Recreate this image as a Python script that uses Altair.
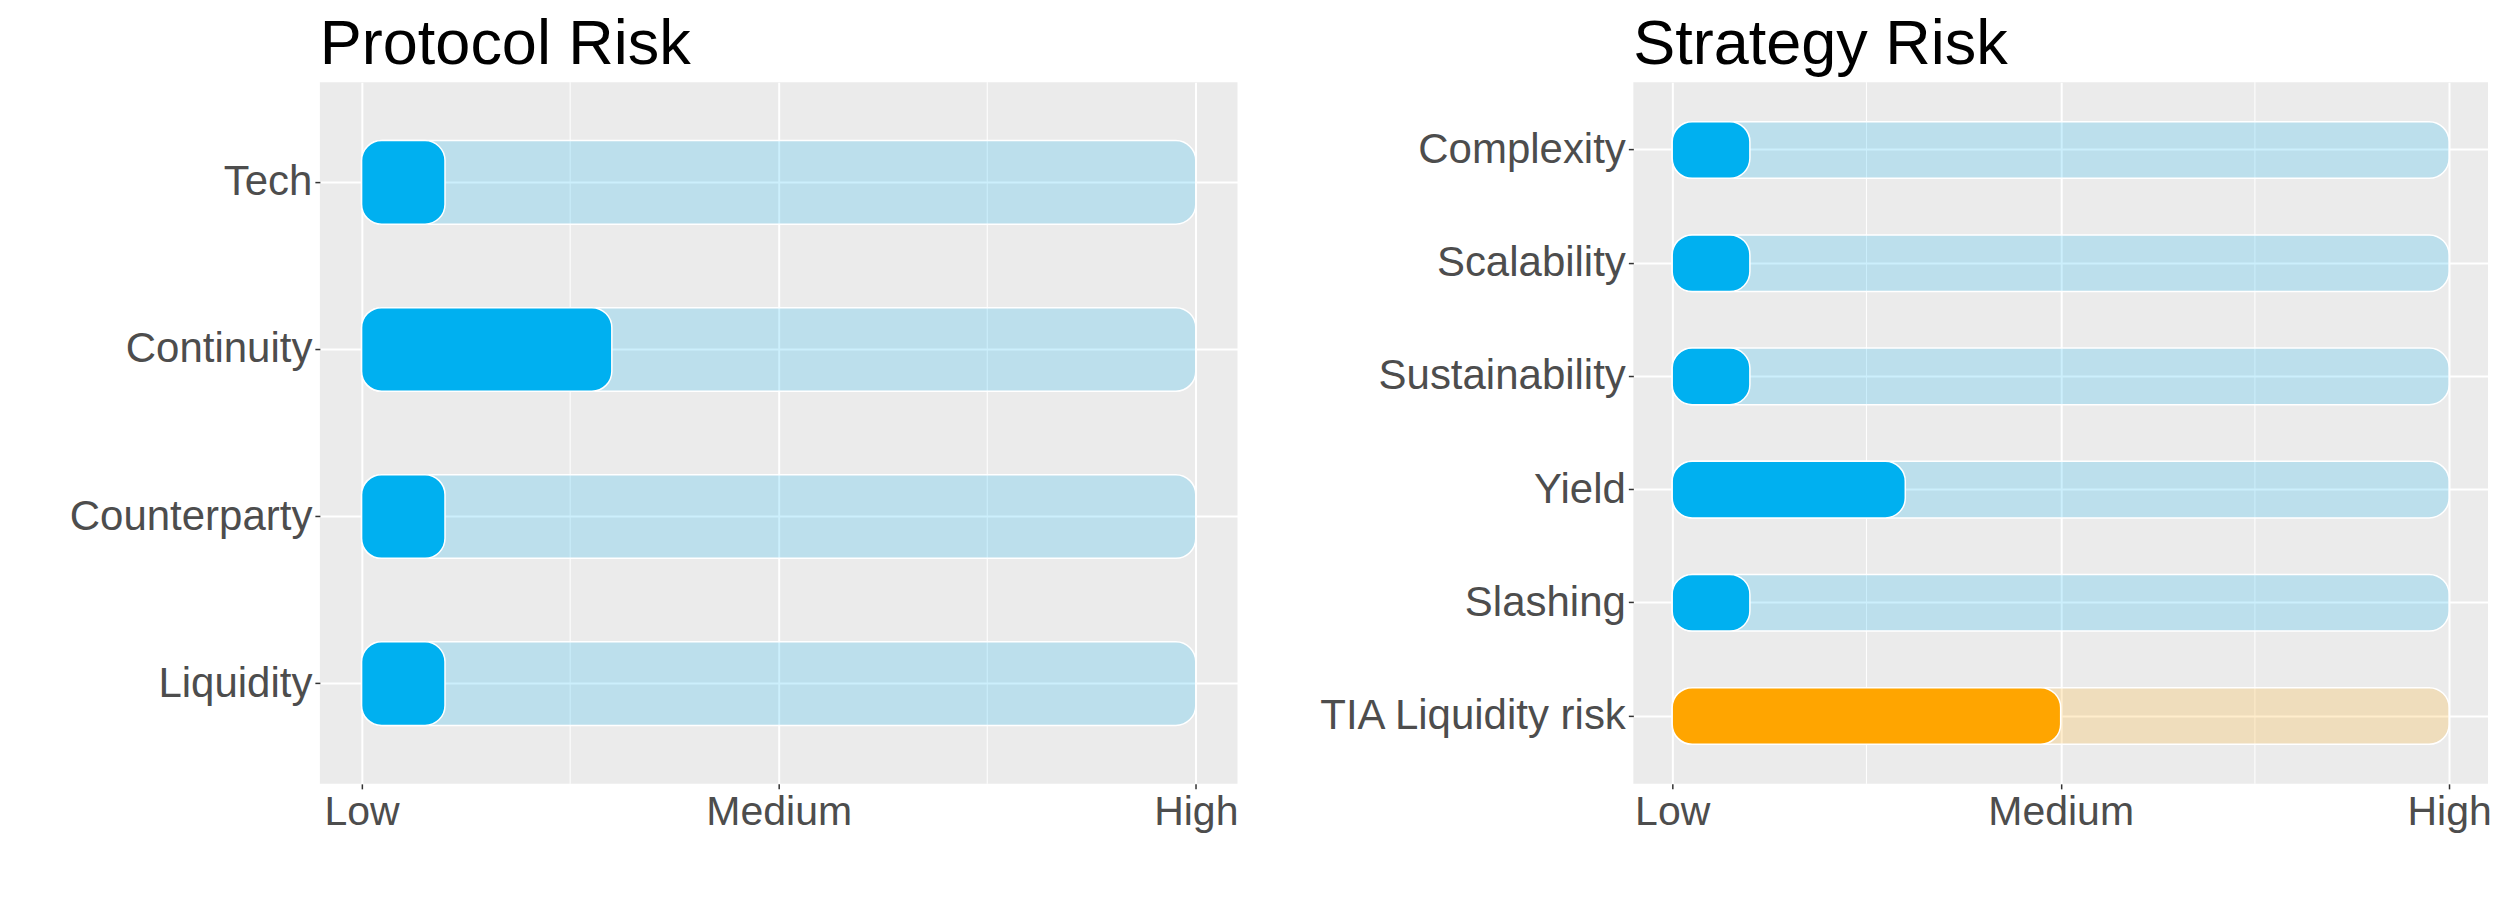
import altair as alt
import pandas as pd

# ---- data ----
protocol_cats = ["Tech", "Continuity", "Counterparty", "Liquidity"]
protocol_vals = [1.2, 1.6, 1.2, 1.2]
protocol_cols = ["#00B0F0", "#00B0F0", "#00B0F0", "#00B0F0"]

strategy_cats = ["Complexity", "Scalability", "Sustainability", "Yield", "Slashing", "TIA Liquidity risk"]
strategy_vals = [1.2, 1.2, 1.2, 1.6, 1.2, 2.0]
strategy_cols = ["#00B0F0", "#00B0F0", "#00B0F0", "#00B0F0", "#00B0F0", "#FFA500"]

tick_values = [1, 2, 3]
tick_labels = ["Low", "Medium", "High"]
minor_breaks = [1.5, 2.5]
low_value = 1
high_value = 3

FONT = "Liberation Sans"

label_expr = " : ".join(
    [f"datum.value == {v} ? '{l}'" for v, l in zip(tick_values[:-1], tick_labels[:-1])]
) + f" : '{tick_labels[-1]}'"

xscale = alt.Scale(domain=[0.9, 3.1], nice=False, zero=False)
xaxis = alt.Axis(
    values=tick_values, labelExpr=label_expr, title=None, grid=True,
    gridColor="white", gridWidth=2, domain=False, tickSize=5, tickWidth=1.5,
    tickColor="#333333", labelFontSize=41, labelColor="#4D4D4D", labelFont=FONT,
    labelPadding=4, labelFlush=False,
)


def X(field):
    return alt.X(field, type="quantitative", scale=xscale, axis=xaxis)


def panel(cats, vals, cols, title, width):
    df = pd.DataFrame({
        "cat": cats,
        "val": vals,
        "col": cols,
        "lo": [low_value] * len(cats),
        "hi": [high_value] * len(cats),
    })
    yscale = alt.Scale(paddingInner=0.5, paddingOuter=0.35)
    yaxis = alt.Axis(
        title=None, grid=True, gridColor="white", gridWidth=2, domain=False,
        tickSize=5, tickWidth=1.5, tickColor="#333333", labelFontSize=42,
        labelColor="#4D4D4D", labelFont=FONT, labelPadding=3,
        minExtent=312, maxExtent=312, labelLimit=400,
    )
    Y = alt.Y("cat:N", sort=cats, scale=yscale, axis=yaxis)

    minor = alt.Chart(pd.DataFrame({"m": minor_breaks})).mark_rule(
        color="white", strokeWidth=1
    ).encode(x=X("m"))

    bg = alt.Chart(df).mark_bar(
        cornerRadius=20, fillOpacity=0.2, stroke="white", strokeWidth=1.5
    ).encode(
        y=Y, x=X("lo"), x2="hi", color=alt.Color("col:N", scale=None)
    )
    fg = alt.Chart(df).mark_bar(
        cornerRadius=20, stroke="white", strokeWidth=1.5
    ).encode(
        y=Y, x=X("lo"), x2="val", color=alt.Color("col:N", scale=None)
    )
    return alt.layer(minor, bg, fg).properties(
        width=width, height=702,
        title=alt.TitleParams(
            text=title, anchor="start", frame="group", fontSize=63,
            font=FONT, color="black", fontWeight="normal", offset=5,
        ),
    )


left = panel(protocol_cats, protocol_vals, protocol_cols, "Protocol Risk", 918)
right = panel(strategy_cats, strategy_vals, strategy_cols, "Strategy Risk", 855)

chart = alt.hconcat(left, right, spacing=78).properties(
    padding={"left": 0, "top": 5, "right": 0, "bottom": 5}
).configure(
    background="white"
).configure_view(
    fill="#EBEBEB", strokeWidth=0
)

chart.save("out.html", embed_options={"renderer": "svg", "actions": False})
